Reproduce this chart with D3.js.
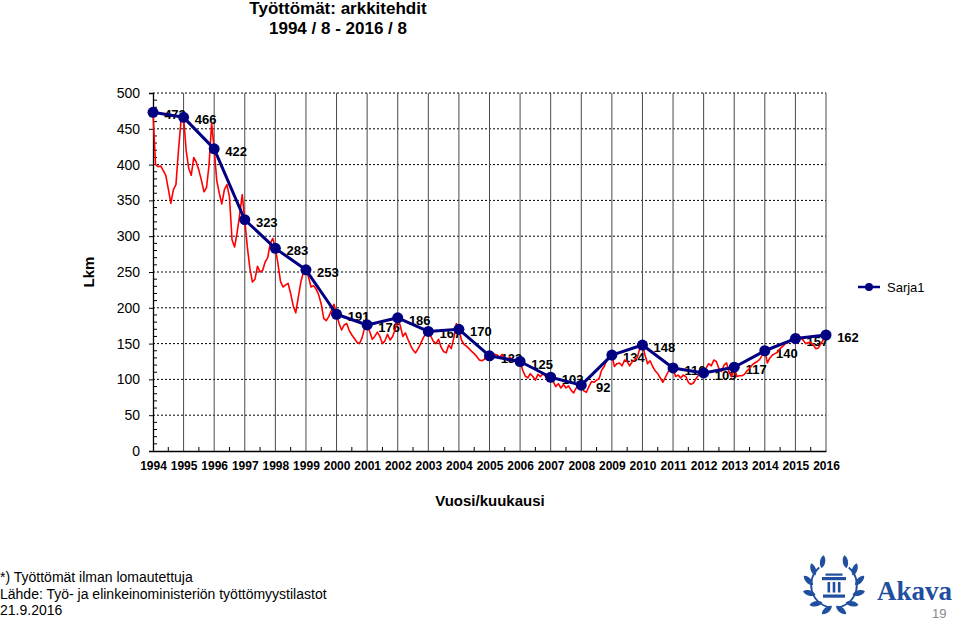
<!DOCTYPE html>
<html>
<head>
<meta charset="utf-8">
<script src="https://cdn.jsdelivr.net/npm/d3@7"></script>
<style>
  html, body { margin: 0; padding: 0; background: #fff; }
  svg { display: block; }
</style>
</head>
<body>
<svg id="chart" width="960" height="624"></svg>
<script>
// ---------- DATA ----------
const years = [1994,1995,1996,1997,1998,1999,2000,2001,2002,2003,2004,2005,2006,2007,2008,2009,2010,2011,2012,2013,2014,2015,2016];
// August values (Sarja1)
const augustValues = [473,466,422,323,283,253,191,176,186,167,170,133,125,103,92,134,148,116,109,117,140,157,162];
// Monthly values 1994/8 ... 2016/8
const monthlyValues = [
  473, 400, 397, 398, 392, 385, 366, 346, 365, 372, 420, 462, 466,
  420, 395, 385, 410, 403, 392, 378, 362, 368, 400, 458, 422,
  378, 360, 345, 365, 372, 355, 295, 285, 305, 330, 358, 323,
  285, 255, 236, 240, 258, 250, 252, 264, 270, 290, 297, 283,
  262, 237, 229, 232, 234, 220, 203, 193, 215, 236, 250, 253,
  243, 229, 231, 226, 218, 205, 185, 182, 188, 197, 205, 191,
  178, 169, 176, 178, 168, 162, 157, 152, 150, 158, 172, 176,
  167, 156, 160, 166, 160, 150, 154, 163, 155, 160, 170, 186,
  175, 160, 165, 156, 148, 141, 137, 143, 150, 158, 164, 167,
  160, 153, 150, 156, 145, 139, 137, 148, 143, 158, 178, 170,
  155, 149, 146, 143, 139, 136, 132, 127, 126, 128, 136, 133,
  133, 135, 134, 131, 135, 129, 127, 131, 126, 128, 126, 125,
  113, 105, 102, 108, 104, 99, 107, 104, 108, 104, 106, 103,
  97, 90, 94, 88, 93, 88, 91, 85, 81, 88, 91, 92,
  84, 82, 90, 97, 96, 99, 101, 113, 118, 127, 134, 134,
  118, 122, 123, 119, 127, 125, 119, 125, 127, 131, 144, 148,
  134, 122, 126, 118, 112, 108, 102, 96, 103, 110, 118, 116,
  104, 106, 102, 106, 104, 96, 93, 95, 101, 106, 114, 109,
  116, 122, 119, 127, 125, 115, 111, 120, 123, 110, 104, 117,
  104, 105, 105, 107, 112, 115, 120, 123, 125, 128, 134, 140,
  123, 130, 134, 136, 138, 143, 146, 150, 151, 155, 160, 157,
  163, 158, 155, 150, 151, 152, 148, 143, 144, 150, 156, 162
];
const yTicks = [0,50,100,150,200,250,300,350,400,450,500];
const titleLines = ["Työttömät: arkkitehdit", "1994 / 8 - 2016 / 8"];
const yAxisTitle = "Lkm";
const xAxisTitle = "Vuosi/kuukausi";
const seriesName = "Sarja1";
const footerLines = ["*) Työttömät ilman lomautettuja", "Lähde: Työ- ja elinkeinoministeriön työttömyystilastot", "21.9.2016"];
const brandName = "Akava";
const pageNumber = "19";

// ---------- LAYOUT ----------
const plot = { left: 153, right: 826, top: 93, bottom: 451 };
const svg = d3.select("#chart");
const FONT = "'Liberation Sans', Arial, Helvetica, sans-serif";
const NARROW = "'Liberation Sans Narrow', 'Arial Narrow', 'Liberation Sans', sans-serif";

const x = d3.scaleLinear().domain([0, (years.length - 1) * 12]).range([plot.left, plot.right]);
const y = d3.scaleLinear().domain([0, 500]).range([plot.bottom, plot.top]);
const yearIdx = years.map((d, i) => i * 12);

// Title
svg.append("g").selectAll("text").data(titleLines).join("text")
  .attr("x", 338).attr("y", (d, i) => 14 + i * 20)
  .attr("text-anchor", "middle")
  .attr("font-family", FONT).attr("font-weight", "bold").attr("font-size", 17)
  .attr("fill", "#000").text(d => d);

// Horizontal dotted gridlines
svg.append("g").selectAll("line").data(yTicks.filter(d => d > 0)).join("line")
  .attr("x1", plot.left).attr("x2", plot.right)
  .attr("y1", d => y(d)).attr("y2", d => y(d))
  .attr("stroke", "#000").attr("stroke-width", 1).attr("stroke-dasharray", "2,2");

// Vertical solid gridlines
svg.append("g").selectAll("line").data(yearIdx.slice(1)).join("line")
  .attr("x1", d => x(d)).attr("x2", d => x(d))
  .attr("y1", plot.top).attr("y2", plot.bottom)
  .attr("stroke", "#4a4a4a").attr("stroke-width", 1);

// Y axis
const yAxis = d3.axisLeft(y).tickValues(yTicks).tickSize(4).tickPadding(9).tickFormat(d3.format("d"));
const gy = svg.append("g").attr("transform", `translate(${plot.left},0)`).call(yAxis);
gy.select(".domain").attr("stroke", "#000").attr("stroke-width", 1.3);
gy.selectAll("text").attr("font-family", FONT).attr("font-size", 14).attr("fill", "#000");
gy.selectAll(".tick line").attr("stroke", "#000");
// minor y ticks (inside)
svg.append("g").selectAll("line").data(d3.range(10, 500, 10).filter(d => d % 50 !== 0)).join("line")
  .attr("x1", plot.left).attr("x2", plot.left + 4)
  .attr("y1", d => y(d)).attr("y2", d => y(d))
  .attr("stroke", "#000").attr("stroke-width", 1);

// X axis
const xAxis = d3.axisBottom(x).tickValues(yearIdx).tickSize(0).tickPadding(10)
  .tickFormat((d, i) => years[i]);
const gx = svg.append("g").attr("transform", `translate(0,${plot.bottom})`).call(xAxis);
gx.select(".domain").attr("stroke", "#000").attr("stroke-width", 1.3);
gx.selectAll("text").attr("font-family", NARROW).attr("font-weight", "bold").attr("font-size", 12).attr("fill", "#000");
// minor x ticks (mid-year, inside)
svg.append("g").selectAll("line").data(yearIdx.slice(1).map(d => d - 6)).join("line")
  .attr("x1", d => x(d)).attr("x2", d => x(d))
  .attr("y1", plot.bottom).attr("y2", plot.bottom - 4)
  .attr("stroke", "#000").attr("stroke-width", 1);

// Axis titles
svg.append("text").attr("transform", "translate(94,272) rotate(-90)")
  .attr("text-anchor", "middle").attr("font-family", FONT).attr("font-weight", "bold").attr("font-size", 15)
  .text(yAxisTitle);
svg.append("text").attr("x", 490).attr("y", 506)
  .attr("text-anchor", "middle").attr("font-family", FONT).attr("font-weight", "bold").attr("font-size", 15)
  .text(xAxisTitle);

// Data labels (under lines)
svg.append("g").selectAll("text").data(augustValues).join("text")
  .attr("x", (d, i) => x(yearIdx[i]) + 22)
  .attr("y", d => y(d) + 7)
  .attr("text-anchor", "middle")
  .attr("font-family", FONT).attr("font-weight", "bold").attr("font-size", 13)
  .attr("fill", "#000").text(d => d);

// Monthly red line
svg.append("path").datum(monthlyValues)
  .attr("fill", "none").attr("stroke", "#ff0000").attr("stroke-width", 1.6)
  .attr("stroke-linejoin", "round")
  .attr("d", d3.line().x((d, i) => x(i)).y(d => y(d)));

// August navy line
const navy = "#000080";
svg.append("path").datum(augustValues)
  .attr("fill", "none").attr("stroke", navy).attr("stroke-width", 3)
  .attr("stroke-linejoin", "round")
  .attr("d", d3.line().x((d, i) => x(yearIdx[i])).y(d => y(d)));
svg.append("g").selectAll("circle").data(augustValues).join("circle")
  .attr("cx", (d, i) => x(yearIdx[i])).attr("cy", d => y(d)).attr("r", 5.5)
  .attr("fill", navy);

// Legend
const lg = svg.append("g").attr("transform", "translate(858,287)");
lg.append("line").attr("x1", 0).attr("x2", 22).attr("y1", 0).attr("y2", 0).attr("stroke", navy).attr("stroke-width", 2.5);
lg.append("circle").attr("cx", 11).attr("cy", 0).attr("r", 4).attr("fill", navy);
lg.append("text").attr("x", 29).attr("y", 5).attr("font-family", FONT).attr("font-size", 13).text(seriesName);

// Footer
svg.append("g").selectAll("text").data(footerLines).join("text")
  .attr("x", 0).attr("y", (d, i) => 582 + i * 16.5)
  .attr("font-family", FONT).attr("font-size", 14).attr("fill", "#000").text(d => d);

// Akava logo
const blue = "#1f4f9e";
const logo = svg.append("g").attr("transform", "translate(834,585)");
const leafPath = "M0,0 C3,-3.5 10,-3.5 13,0 C10,3.5 3,3.5 0,0 Z";
const leafAngles = [-64, -37, -10, 18, 46, 74];
[1, -1].forEach(side => {
  leafAngles.forEach((a, k) => {
    const ang = (90 + a) * Math.PI / 180;
    const r = 26;
    const px = side * r * Math.sin(ang);
    const py = -r * Math.cos(ang);
    const rot = side === 1 ? (a + 180 - 35) : (-a + 35);
    logo.append("path").attr("d", leafPath)
      .attr("transform", `translate(${px},${py}) rotate(${rot}) translate(-6.5,0)`)
      .attr("fill", blue);
  });
  logo.append("path")
    .attr("d", d3.arc()({ innerRadius: 22, outerRadius: 23.8, startAngle: side * 0.7, endAngle: side * 2.95 }))
    .attr("fill", blue);
});
// column
logo.append("rect").attr("x", -12).attr("y", -8).attr("width", 24).attr("height", 3.2).attr("fill", blue);
logo.append("rect").attr("x", -8.5).attr("y", -11.5).attr("width", 17).attr("height", 2.2).attr("fill", blue);
[-6.5, -1.3, 3.9].forEach(cx => logo.append("rect").attr("x", cx).attr("y", -3).attr("width", 2.6).attr("height", 10.5).attr("fill", blue));
logo.append("rect").attr("x", -11).attr("y", 9.5).attr("width", 22).attr("height", 3.2).attr("fill", blue);

svg.append("text").attr("x", 877).attr("y", 600)
  .attr("font-family", "'Liberation Serif', 'Times New Roman', serif").attr("font-weight", "bold").attr("font-size", 27)
  .attr("fill", blue).text(brandName);
svg.append("text").attr("x", 932).attr("y", 618)
  .attr("font-family", FONT).attr("font-size", 13).attr("fill", "#888").text(pageNumber);
</script>
</body>
</html>
